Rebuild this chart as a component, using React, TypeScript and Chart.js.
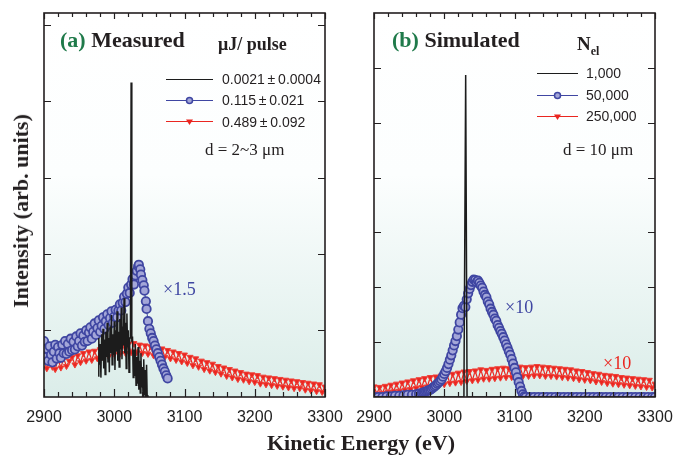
import React, { useEffect, useRef } from "react";
import { Chart, registerables } from "chart.js";
Chart.register(...registerables);

const W = 674;
const H = 455;

// ---------- Panel (a) Measured ----------
const aBlackX = [2977, 2978, 2979, 2980, 2981, 2982, 2983, 2984, 2985, 2986, 2987, 2988, 2989, 2990, 2991, 2992, 2993, 2994, 2995, 2996, 2997, 2998, 2999, 3000, 3001, 3002, 3003, 3004, 3005, 3006, 3007, 3008, 3009, 3010, 3011, 3012, 3013, 3014, 3015, 3016, 3017, 3018, 3019, 3020, 3021, 3022, 3023, 3024, 3025, 3026, 3027, 3028, 3029, 3030, 3031, 3032, 3033, 3034, 3035, 3036, 3037, 3038, 3039, 3040, 3041, 3042, 3043, 3044, 3045, 3046, 3047, 3048];
const aBlackY = [4.0, 9.0, 5.5, 8.2, 3.8, 9.5, 6.0, 10.2, 5.0, 8.8, 4.2, 9.8, 6.5, 11.0, 5.8, 9.0, 4.5, 10.5, 7.0, 12.0, 5.5, 9.5, 6.8, 11.2, 4.8, 10.0, 7.2, 12.5, 6.0, 9.8, 5.2, 11.5, 7.5, 13.0, 6.2, 10.5, 8.0, 14.2, 7.0, 11.0, 5.0, 12.2, 7.8, 10.0, 4.5, 9.0, 9.0, 42.5, 8.5, 9.2, 3.8, 7.5, 4.0, 8.2, 2.8, 6.5, 3.0, 7.8, 2.2, 6.0, 1.8, 7.0, 2.5, 5.2, 1.0, 6.2, 1.5, 4.8, 0.5, 5.5, 0.8, 1.5];

const aBlueX = [2900, 2902, 2904, 2906, 2908, 2910, 2912, 2914, 2916, 2918, 2920, 2922, 2924, 2926, 2928, 2930, 2932, 2934, 2936, 2938, 2940, 2942, 2944, 2946, 2948, 2950, 2952, 2954, 2956, 2958, 2960, 2962, 2964, 2966, 2968, 2970, 2972, 2974, 2976, 2978, 2980, 2982, 2984, 2986, 2988, 2990, 2992, 2994, 2996, 2998, 3000, 3002, 3004, 3006, 3008, 3010, 3012, 3014, 3016, 3018, 3020, 3022, 3024, 3026, 3028, 3030, 3032, 3034, 3035, 3037, 3038, 3040, 3042, 3043, 3045, 3046, 3048, 3050, 3052, 3054, 3056, 3058, 3060, 3062, 3064, 3066, 3068, 3070, 3072, 3074, 3076];
const aBlueY = [8.6, 6.5, 7.6, 6.0, 7.9, 6.8, 5.8, 7.2, 8.1, 6.3, 7.8, 7.0, 6.4, 8.1, 7.0, 8.6, 6.9, 8.2, 7.2, 8.9, 7.4, 8.5, 7.5, 9.2, 7.9, 8.6, 9.6, 8.0, 9.3, 8.5, 10.0, 8.6, 9.7, 10.4, 8.9, 9.8, 10.9, 9.4, 10.3, 11.3, 9.8, 10.6, 11.7, 10.2, 11.2, 12.1, 10.7, 11.6, 12.5, 11.0, 11.8, 12.7, 11.7, 12.6, 13.4, 12.6, 13.6, 14.4, 13.7, 14.8, 15.6, 14.9, 16.0, 16.7, 16.0, 17.2, 17.8, 18.4, 18.6, 18.0, 17.3, 16.6, 15.9, 15.2, 13.8, 12.8, 11.2, 10.2, 9.6, 9.0, 8.6, 8.0, 7.5, 7.0, 6.5, 6.0, 5.5, 5.0, 4.6, 4.1, 3.7];

const redX = [2900, 2904, 2908, 2912, 2916, 2920, 2924, 2928, 2932, 2936, 2940, 2944, 2948, 2952, 2956, 2960, 2964, 2968, 2972, 2976, 2980, 2984, 2988, 2992, 2996, 3000, 3004, 3008, 3012, 3016, 3020, 3024, 3028, 3032, 3036, 3040, 3044, 3048, 3052, 3056, 3060, 3064, 3068, 3072, 3076, 3080, 3084, 3088, 3092, 3096, 3100, 3104, 3108, 3112, 3116, 3120, 3124, 3128, 3132, 3136, 3140, 3144, 3148, 3152, 3156, 3160, 3164, 3168, 3172, 3176, 3180, 3184, 3188, 3192, 3196, 3200, 3204, 3208, 3212, 3216, 3220, 3224, 3228, 3232, 3236, 3240, 3244, 3248, 3252, 3256, 3260, 3264, 3268, 3272, 3276, 3280, 3284, 3288, 3292, 3296, 3300];
const aRedY = [6.1, 5.0, 6.0, 5.2, 4.9, 6.2, 5.1, 6.3, 5.3, 6.0, 6.5, 5.5, 6.7, 5.8, 7.0, 6.0, 7.2, 6.1, 7.3, 6.3, 7.5, 6.5, 7.7, 6.6, 7.8, 6.9, 8.0, 6.9, 8.1, 7.0, 8.2, 7.1, 8.3, 7.1, 8.1, 7.0, 8.0, 6.9, 7.9, 6.7, 7.7, 6.6, 7.6, 6.5, 7.4, 6.3, 7.2, 6.1, 7.0, 5.9, 6.8, 5.7, 6.5, 5.4, 6.3, 5.2, 6.0, 4.9, 5.8, 4.7, 5.6, 4.5, 5.3, 4.3, 5.1, 4.0, 4.9, 3.8, 4.7, 3.6, 4.5, 3.5, 4.3, 3.3, 4.2, 3.2, 4.1, 3.0, 3.9, 2.9, 3.8, 2.8, 3.7, 2.7, 3.6, 2.6, 3.5, 2.5, 3.4, 2.4, 3.3, 2.4, 3.2, 2.2, 3.1, 2.1, 3.0, 2.0, 2.9, 1.9, 2.6];

const aYMin = 1.26;
const aYMax = 51.6;
const aYTicks = [10, 20, 30, 40, 50];
const aLegendLabels = ["0.0021\u2009±\u20090.0004", "0.115\u2009±\u20090.021", "0.489\u2009±\u20090.092"];

// ---------- Panel (b) Simulated ----------
const bBlackX = [2900, 3028, 3030.5, 3032.5, 3300];
const bBlackY = [0, 0, 58.7, 0, 0];

const bBlueX = [2900, 2906, 2912, 2918, 2924, 2930, 2936, 2942, 2948, 2954, 2960, 2964, 2968, 2970, 2972, 2974, 2976, 2978, 2980, 2982, 2984, 2986, 2988, 2990, 2992, 2994, 2996, 2998, 3000, 3002, 3004, 3006, 3008, 3010, 3012, 3014, 3016, 3018, 3020, 3022, 3024, 3026, 3028, 3030, 3032, 3034, 3036, 3038, 3040, 3042, 3044, 3046, 3048, 3050, 3052, 3054, 3056, 3058, 3060, 3062, 3064, 3066, 3068, 3070, 3072, 3074, 3076, 3078, 3080, 3082, 3084, 3086, 3088, 3090, 3092, 3094, 3096, 3098, 3100, 3102, 3104, 3106, 3108, 3110, 3112, 3114, 3116, 3122, 3128, 3134, 3140, 3146, 3152, 3158, 3164, 3170, 3176, 3182, 3188, 3194, 3200, 3206, 3212, 3218, 3224, 3230, 3236, 3242, 3248, 3254, 3260, 3266, 3272, 3278, 3284, 3290, 3296, 3300];
const bBlueY = [0, 0, 0, 0.1, 0.1, 0.2, 0.2, 0.3, 0.4, 0.4, 0.5, 0.6, 0.7, 0.8, 0.9, 1.0, 1.1, 1.2, 1.3, 1.5, 1.7, 1.9, 2.1, 2.4, 2.6, 2.9, 3.2, 3.7, 4.2, 4.7, 5.3, 6.0, 6.8, 7.6, 8.5, 9.4, 10.2, 11.1, 12.3, 13.6, 15.0, 16.2, 16.6, 16.4, 17.8, 18.9, 19.7, 20.4, 21.0, 21.4, 21.3, 20.9, 21.2, 20.8, 20.3, 19.9, 19.2, 18.6, 18.2, 17.4, 16.9, 16.1, 15.5, 15.0, 14.3, 13.9, 13.1, 12.6, 12.0, 11.5, 10.9, 10.3, 9.6, 9.0, 8.3, 7.7, 6.9, 6.1, 5.3, 4.5, 3.6, 2.7, 1.9, 1.1, 0.5, 0.1, 0, 0, 0, 0, 0, 0, 0, 0, 0, 0, 0, 0, 0, 0, 0, 0, 0, 0, 0, 0, 0, 0, 0, 0, 0, 0, 0, 0, 0, 0, 0, 0];

const bRedY = [1.9, 0.6, 1.8, 0.7, 2.0, 0.9, 2.2, 1.0, 2.4, 1.1, 2.6, 1.3, 2.8, 1.4, 3.0, 1.6, 3.2, 1.8, 3.4, 1.9, 3.6, 2.1, 3.7, 2.2, 3.9, 2.3, 4.0, 2.5, 4.2, 2.6, 4.4, 2.7, 4.6, 2.9, 4.7, 3.0, 4.8, 3.1, 5.0, 3.3, 4.9, 3.3, 5.1, 3.4, 5.2, 3.5, 5.3, 3.6, 5.2, 3.6, 5.4, 3.7, 5.5, 3.8, 5.4, 3.8, 5.5, 3.9, 5.6, 3.9, 5.5, 3.8, 5.4, 3.8, 5.3, 3.7, 5.2, 3.6, 5.1, 3.5, 5.0, 3.4, 4.8, 3.2, 4.7, 3.1, 4.5, 3.0, 4.3, 2.8, 4.2, 2.7, 4.0, 2.5, 3.9, 2.4, 3.8, 2.3, 3.6, 2.2, 3.5, 2.1, 3.4, 2.0, 3.3, 1.9, 3.2, 1.8, 3.1, 1.7, 2.4];

const bYMin = 0;
const bYMax = 70;
const bYTicks = [10, 20, 30, 40, 50, 60];
const bLegendLabels = ["1,000", "50,000", "250,000"];

const xMin = 2900;
const xMax = 3300;

// ---------- styles ----------
const BLACK = "#1c1c1c";
const BLUE_LINE = "#3f46a2";
const BLUE_FILL = "#a3a6d8";
const RED = "#ea2620";
const GREEN = "#1f7a4a";
const TEXT = "#231f20";

const pts = (xs: number[], ys: number[]) => xs.map((x, i) => ({ x, y: ys[i] }));

type LegendSpec = { x0: number; x1: number; ys: number[] };

function makePlugin(yTicks: number[], legend: LegendSpec) {
  return {
    id: "frame",
    beforeDraw(chart: any) {
      const { ctx, chartArea: a } = chart;
      const g = ctx.createLinearGradient(0, a.top, 0, a.bottom);
      g.addColorStop(0, "#ffffff");
      g.addColorStop(0.42, "#fcfefe");
      g.addColorStop(1, "#dbede9");
      ctx.save();
      ctx.fillStyle = g;
      ctx.fillRect(a.left, a.top, a.right - a.left, a.bottom - a.top);
      ctx.restore();
    },
    afterDatasetsDraw(chart: any) {
      const { ctx, chartArea: a, scales } = chart;
      const xs = scales.x;
      const ys = scales.y;
      ctx.save();
      ctx.strokeStyle = TEXT;
      ctx.lineWidth = 1.2;
      ctx.beginPath();
      for (let v = xs.min; v <= xs.max; v += 20) {
        const px = Math.round(xs.getPixelForValue(v)) + 0.5;
        const major = v % 100 === 0;
        const lb = major ? 8 : 5;
        const lt = major ? 6 : 4;
        ctx.moveTo(px, a.bottom);
        ctx.lineTo(px, a.bottom - lb);
        ctx.moveTo(px, a.top);
        ctx.lineTo(px, a.top + lt);
      }
      for (const v of yTicks) {
        const py = Math.round(ys.getPixelForValue(v)) + 0.5;
        ctx.moveTo(a.left, py);
        ctx.lineTo(a.left + 7, py);
        ctx.moveTo(a.right, py);
        ctx.lineTo(a.right - 7, py);
      }
      ctx.stroke();
      ctx.lineWidth = 1.6;
      ctx.strokeRect(a.left, a.top, a.right - a.left, a.bottom - a.top);

      // legend samples
      const xm = (legend.x0 + legend.x1) / 2;
      const colors = [BLACK, BLUE_LINE, RED];
      legend.ys.forEach((y, i) => {
        ctx.strokeStyle = colors[i];
        ctx.lineWidth = 1;
        ctx.beginPath();
        ctx.moveTo(legend.x0, y + 0.5);
        ctx.lineTo(legend.x1, y + 0.5);
        ctx.stroke();
        if (i === 1) {
          ctx.beginPath();
          ctx.arc(xm, y + 0.5, 3, 0, Math.PI * 2);
          ctx.fillStyle = BLUE_FILL;
          ctx.fill();
          ctx.lineWidth = 1.5;
          ctx.strokeStyle = BLUE_LINE;
          ctx.stroke();
        } else if (i === 2) {
          ctx.beginPath();
          ctx.moveTo(xm - 3.5, y - 1.5);
          ctx.lineTo(xm + 3.5, y - 1.5);
          ctx.lineTo(xm, y + 4);
          ctx.closePath();
          ctx.fillStyle = RED;
          ctx.fill();
        }
      });
      ctx.restore();
    },
  };
}

function makeChart(
  canvas: HTMLCanvasElement,
  padLeft: number,
  padRight: number,
  yMin: number,
  yMax: number,
  yTicks: number[],
  legend: LegendSpec,
  black: { x: number; y: number }[],
  blue: { x: number; y: number }[],
  red: { x: number; y: number }[]
) {
  return new Chart(canvas, {
    type: "scatter",
    data: {
      datasets: [
        {
          data: black,
          showLine: true,
          borderColor: BLACK,
          borderWidth: 1.5,
          pointRadius: 0,
          clip: 0,
        } as any,
        {
          data: blue,
          showLine: true,
          borderColor: BLUE_LINE,
          borderWidth: 1,
          pointRadius: 4.2,
          pointBorderWidth: 1.8,
          pointBackgroundColor: BLUE_FILL,
          pointBorderColor: BLUE_LINE,
          clip: 0,
        } as any,
        {
          data: red,
          showLine: true,
          borderColor: RED,
          borderWidth: 1.2,
          pointStyle: "triangle",
          rotation: 180,
          pointRadius: 3.4,
          pointBorderWidth: 1,
          pointBackgroundColor: RED,
          pointBorderColor: "#f04038",
          clip: 0,
        } as any,
      ],
    },
    options: {
      responsive: false,
      animation: false,
      devicePixelRatio: 1,
      layout: { padding: { left: padLeft, right: padRight, top: 13, bottom: 18 } },
      plugins: { legend: { display: false }, tooltip: { enabled: false } },
      scales: {
        x: {
          type: "linear",
          min: xMin,
          max: xMax,
          afterFit: (s: any) => {
            s.height = 40;
            s.paddingLeft = 0;
            s.paddingRight = 0;
          },
          grid: { display: false, drawTicks: false },
          border: { display: false },
          ticks: {
            stepSize: 100,
            padding: 11,
            autoSkip: false,
            maxRotation: 0,
            color: "#222",
            font: { family: "'Liberation Sans', Arial, sans-serif", size: 16 },
            callback: (v: any) => String(v),
          },
        },
        y: { type: "linear", display: false, min: yMin, max: yMax },
      },
    } as any,
    plugins: [makePlugin(yTicks, legend)],
  });
}

const serif = "'Liberation Serif', 'Times New Roman', serif";
const sans = "'Liberation Sans', Arial, sans-serif";

function T(props: {
  x: number;
  y: number;
  size: number;
  bold?: boolean;
  font?: string;
  color?: string;
  children: React.ReactNode;
}) {
  return (
    <div
      style={{
        position: "absolute",
        left: props.x,
        top: props.y,
        transform: "translateY(-50%)",
        fontSize: props.size,
        lineHeight: 1,
        fontFamily: props.font || serif,
        fontWeight: props.bold ? "bold" : "normal",
        color: props.color || TEXT,
        whiteSpace: "nowrap",
      }}
    >
      {props.children}
    </div>
  );
}

export default function App() {
  const refA = useRef<HTMLCanvasElement>(null);
  const refB = useRef<HTMLCanvasElement>(null);

  useEffect(() => {
    const ca = makeChart(
      refA.current!,
      44,
      W - 325,
      aYMin,
      aYMax,
      aYTicks,
      { x0: 166, x1: 213, ys: [79, 100, 121] },
      pts(aBlackX, aBlackY),
      pts(aBlueX, aBlueY),
      pts(redX, aRedY)
    );
    const cb = makeChart(
      refB.current!,
      374,
      W - 655,
      bYMin,
      bYMax,
      bYTicks,
      { x0: 537, x1: 578, ys: [73, 95, 116] },
      pts(bBlackX, bBlackY),
      pts(bBlueX, bBlueY),
      pts(redX, bRedY)
    );
    return () => {
      ca.destroy();
      cb.destroy();
    };
  }, []);

  const cStyle: React.CSSProperties = { position: "absolute", left: 0, top: 0, width: W, height: H };

  return (
    <div style={{ position: "absolute", left: 0, top: 0, width: W, height: H, background: "#fff", overflow: "hidden" }}>
      <canvas ref={refA} width={W} height={H} style={cStyle} />
      <canvas ref={refB} width={W} height={H} style={cStyle} />

      {/* Panel a texts */}
      <T x={60} y={40} size={22} bold>
        <span style={{ color: GREEN }}>(a)</span> Measured
      </T>
      <T x={218} y={44} size={18} bold>
        μJ/ pulse
      </T>
      <T x={222} y={79} size={14} font={sans}>{aLegendLabels[0]}</T>
      <T x={222} y={100} size={14} font={sans}>{aLegendLabels[1]}</T>
      <T x={222} y={122} size={14} font={sans}>{aLegendLabels[2]}</T>
      <T x={205} y={149} size={17}>d = 2~3 μm</T>
      <T x={163} y={289} size={18} color={BLUE_LINE}>×1.5</T>

      {/* Panel b texts */}
      <T x={392} y={40} size={22} bold>
        <span style={{ color: GREEN }}>(b)</span> Simulated
      </T>
      <T x={577} y={45} size={19} bold>
        N<sub style={{ fontSize: 12, verticalAlign: "-5px" }}>el</sub>
      </T>
      <T x={586} y={73} size={14} font={sans}>{bLegendLabels[0]}</T>
      <T x={586} y={95} size={14} font={sans}>{bLegendLabels[1]}</T>
      <T x={586} y={116} size={14} font={sans}>{bLegendLabels[2]}</T>
      <T x={563} y={149} size={17}>d = 10 μm</T>
      <T x={505} y={307} size={18} color={BLUE_LINE}>×10</T>
      <T x={603} y={363} size={18} color={RED}>×10</T>

      {/* Axis titles */}
      <div
        style={{
          position: "absolute",
          left: 21,
          top: 211,
          transform: "translate(-50%, -50%) rotate(-90deg)",
          fontFamily: serif,
          fontWeight: "bold",
          fontSize: 22,
          lineHeight: 1,
          color: TEXT,
          whiteSpace: "nowrap",
        }}
      >
        Intensity (arb. units)
      </div>
      <div
        style={{
          position: "absolute",
          left: 361,
          top: 443,
          transform: "translate(-50%, -50%)",
          fontFamily: serif,
          fontWeight: "bold",
          fontSize: 22,
          lineHeight: 1,
          color: TEXT,
          whiteSpace: "nowrap",
        }}
      >
        Kinetic Energy (eV)
      </div>
    </div>
  );
}
